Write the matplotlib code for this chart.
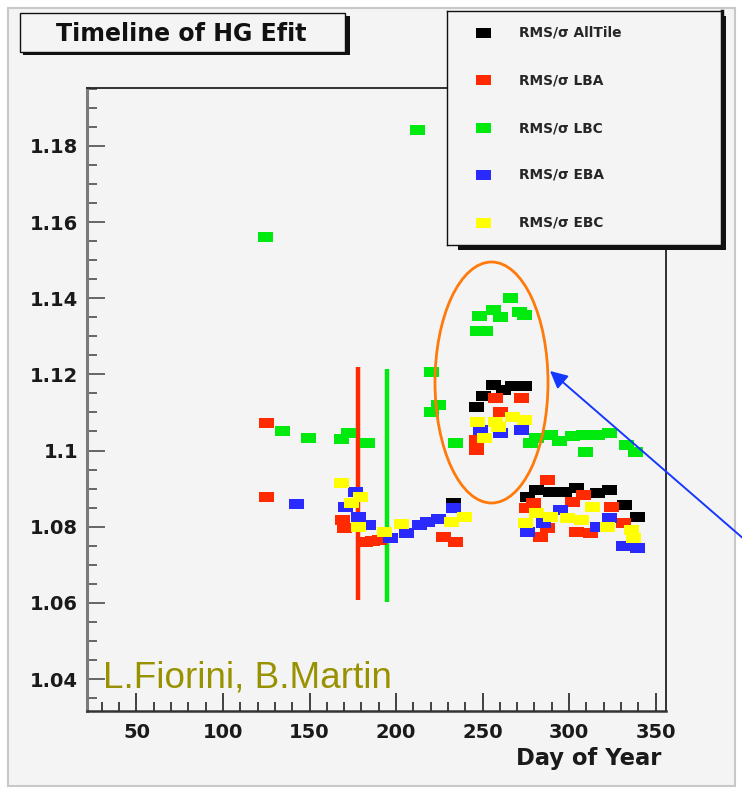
import matplotlib
matplotlib.use('Agg')
import matplotlib.pyplot as plt
from matplotlib.patches import Rectangle, Ellipse, FancyArrowPatch
from matplotlib.ticker import MultipleLocator, FuncFormatter

# ---------------- data ----------------
series_labels = ["RMS/\u03c3 AllTile", "RMS/\u03c3 LBA", "RMS/\u03c3 LBC", "RMS/\u03c3 EBA", "RMS/\u03c3 EBC"]
series_colors = ["#000000", "#ff2a00", "#00ea10", "#2a2aff", "#ffff00"]

alltile_x = [233, 246, 250, 256, 262, 267, 274, 275.5, 281, 289, 297, 304, 316, 323, 332, 339]
alltile_y = [1.0861, 1.1115, 1.1142, 1.1172, 1.1160, 1.1170, 1.1170, 1.0879, 1.0896, 1.0892, 1.0892,
             1.0901, 1.0888, 1.0896, 1.0857, 1.0826]

lba_x = [125, 125, 168.6, 170, 182, 186, 190, 227, 234, 246, 246, 257, 260, 272, 275, 279, 283, 287,
         287, 301.5, 304, 308, 312, 324, 331]
lba_y = [1.1072, 1.0879, 1.0818, 1.0796, 1.0761, 1.0763, 1.0765, 1.0774, 1.0761, 1.1001, 1.1028, 1.1137,
         1.1102, 1.1137, 1.0848, 1.0861, 1.0774, 1.0923, 1.0796, 1.0866, 1.0787, 1.0883, 1.0783, 1.0853,
         1.0809]

lbc_x = [124, 134, 149, 168, 172, 183, 212, 220, 220, 224.5, 234, 246.6, 251.4, 248, 256, 260, 266, 271,
         274, 277.5, 281, 289, 294, 301.5, 308, 309, 316, 323, 333, 338]
lbc_y = [1.1561, 1.1052, 1.1032, 1.1030, 1.1045, 1.1020, 1.1842, 1.1205, 1.1102, 1.1120, 1.1019, 1.1313,
         1.1313, 1.1352, 1.1369, 1.1350, 1.1400, 1.1365, 1.1356, 1.1019, 1.1032, 1.1041, 1.1024, 1.1037,
         1.1041, 1.0997, 1.1041, 1.1045, 1.1015, 1.0997]

eba_x = [142, 170.5, 176, 178, 184, 196.5, 206, 213, 218, 224.5, 233, 248.6, 260, 272, 275.5, 285, 295,
         316, 323, 331, 339]
eba_y = [1.0860, 1.0853, 1.0892, 1.0826, 1.0804, 1.0769, 1.0783, 1.0804, 1.0813, 1.0819, 1.0848, 1.1054,
         1.1045, 1.1054, 1.0787, 1.0809, 1.0844, 1.0800, 1.0822, 1.0748, 1.0743]

ebc_x = [168, 174, 179, 178, 193, 203, 232, 239, 246.6, 251, 257, 259, 267, 274, 274.6, 281, 289, 299,
         307, 313, 322, 336, 337]
ebc_y = [1.0914, 1.0861, 1.0879, 1.0800, 1.0787, 1.0807, 1.0813, 1.0826, 1.1076, 1.1032, 1.1076, 1.1063,
         1.1089, 1.1080, 1.0809, 1.0835, 1.0826, 1.0822, 1.0818, 1.0853, 1.0800, 1.0791, 1.0769]

series_x = [alltile_x, lba_x, lbc_x, eba_x, ebc_x]
series_y = [alltile_y, lba_y, lbc_y, eba_y, ebc_y]

# vertical error bars (LBA, LBC)
err_x = [178.2, 194.6]
err_lo = [1.0607, 1.0602]
err_hi = [1.1220, 1.1213]
err_colors = ["#ff2a00", "#00ea10"]

x_ticks = [50, 100, 150, 200, 250, 300, 350]
y_ticks = [1.04, 1.06, 1.08, 1.10, 1.12, 1.14, 1.16, 1.18]

title_text = "Timeline of HG Efit"
xlabel_text = "Day of Year"
credit_text = "L.Fiorini, B.Martin"

# ---------------- figure ----------------
W, H = 742, 792
fig = plt.figure(figsize=(W / 100, H / 100), dpi=100, facecolor='white')

def fx(px):
    return px / W

def fy(py):
    return 1 - py / H

BG = '#f4f4f4'
fig.add_artist(Rectangle((fx(8), fy(786)), (735 - 8) / W, (786 - 8) / H, transform=fig.transFigure,
                         facecolor=BG, edgecolor='#c8c8c8', lw=1.5, zorder=0))

ax_l, ax_r, ax_t, ax_b = 87, 666, 88, 711
ax = fig.add_axes([fx(ax_l), fy(ax_b), (ax_r - ax_l) / W, (ax_b - ax_t) / H])
ax.set_facecolor(BG)
ax.set_xlim(21.4, 356)
ax.set_ylim(1.0316, 1.1952)

rect_marker = [(-1.5, -1), (1.5, -1), (1.5, 1), (-1.5, 1)]

ax.vlines(err_x, err_lo, err_hi, colors=err_colors, lw=3.2, zorder=2)
for xs, ys, c in zip(series_x, series_y, series_colors):
    ax.plot(xs, ys, linestyle='none', marker=rect_marker, markersize=10.8,
            markerfacecolor=c, markeredgewidth=0, zorder=3)

ax.xaxis.set_major_locator(plt.FixedLocator(x_ticks))
ax.xaxis.set_minor_locator(MultipleLocator(10))
ax.yaxis.set_major_locator(plt.FixedLocator(y_ticks))
ax.yaxis.set_minor_locator(MultipleLocator(0.005))
ax.yaxis.set_major_formatter(FuncFormatter(lambda v, p: '%g' % round(v, 3)))
ax.xaxis.set_major_formatter(FuncFormatter(lambda v, p: '%d' % v))

ax.tick_params(axis='both', which='both', direction='in', top=False, right=False)
ax.tick_params(axis='y', which='major', length=13, width=1.4, color='#666666', pad=6.5)
ax.tick_params(axis='y', which='minor', length=7, width=1.4, color='#666666')
ax.tick_params(axis='x', which='major', length=13, width=1.3, color='#333333', pad=9)
ax.tick_params(axis='x', which='minor', length=6.5, width=1.3, color='#333333')
for lab in ax.get_xticklabels() + ax.get_yticklabels():
    lab.set_fontweight('bold')
    lab.set_fontsize(14)
    lab.set_color('#1a1a1a')

ax.spines['left'].set_color('#7a7a7a')
ax.spines['left'].set_linewidth(2.2)
ax.spines['bottom'].set_color('#333333')
ax.spines['bottom'].set_linewidth(1.8)
for s in ('top', 'right'):
    ax.spines[s].set_color('#222222')
    ax.spines[s].set_linewidth(1.3)

# x label
fig.text(fx(661), fy(758), xlabel_text, ha='right', va='center', fontsize=16.3,
         fontweight='bold', color='#1a1a1a')

# credit
fig.text(fx(103), fy(687), credit_text, ha='left', va='baseline', fontsize=26.6,
         family='Liberation Sans', color='#999200', zorder=5)

# title box with shadow
fig.add_artist(Rectangle((fx(23), fy(55)), (347 - 20) / W, (55 - 16) / H, transform=fig.transFigure,
                         facecolor='#111111', edgecolor='none', zorder=6))
fig.add_artist(Rectangle((fx(20), fy(52)), (345 - 20) / W, (52 - 13) / H, transform=fig.transFigure,
                         facecolor=BG, edgecolor='#111111', lw=1.0, zorder=7))
fig.text(fx(181), fy(34), title_text, ha='center', va='center', fontsize=17,
         fontweight='bold', color='#111111', zorder=8)

# legend box with shadow
lg_l, lg_r, lg_t, lg_b = 447, 722, 11, 245
fig.add_artist(Rectangle((fx(lg_l + 11), fy(lg_b + 5)), (lg_r - lg_l - 7) / W, (lg_b - lg_t) / H,
                         transform=fig.transFigure, facecolor='#111111', edgecolor='none', zorder=9))
lax = fig.add_axes([fx(lg_l), fy(lg_b), (lg_r - lg_l) / W, (lg_b - lg_t) / H], zorder=10)
lax.set_facecolor(BG)
lax.set_xlim(lg_l, lg_r)
lax.set_ylim(lg_b, lg_t)
lax.set_xticks([])
lax.set_yticks([])
for s in lax.spines.values():
    s.set_color('#111111')
    s.set_linewidth(1.0)
lax.spines['right'].set_linewidth(2.5)
entry_y = [33, 80, 128, 175, 223]
for lab, c, yy in zip(series_labels, series_colors, entry_y):
    lax.plot([483], [yy], linestyle='none', marker=rect_marker, markersize=10.8,
             markerfacecolor=c, markeredgewidth=0)
    lax.text(519, yy, lab, ha='left', va='center', fontsize=9.9, fontweight='bold', color='#262626')

# orange ellipse annotation
fig.add_artist(Ellipse((fx(491.5), fy(382.5)), 113 / W, 241 / H, transform=fig.transFigure,
                       facecolor='none', edgecolor='#ff7a0a', lw=2.0, zorder=11))

# blue arrow
fig.add_artist(FancyArrowPatch((fx(745), fy(540)), (fx(550), fy(371)),
                               transform=fig.transFigure, arrowstyle='-|>',
                               mutation_scale=26, color='#1538ff', lw=1.4,
                               shrinkA=0, shrinkB=0, zorder=12))

fig.savefig('out.png', dpi=100, facecolor=fig.get_facecolor())
